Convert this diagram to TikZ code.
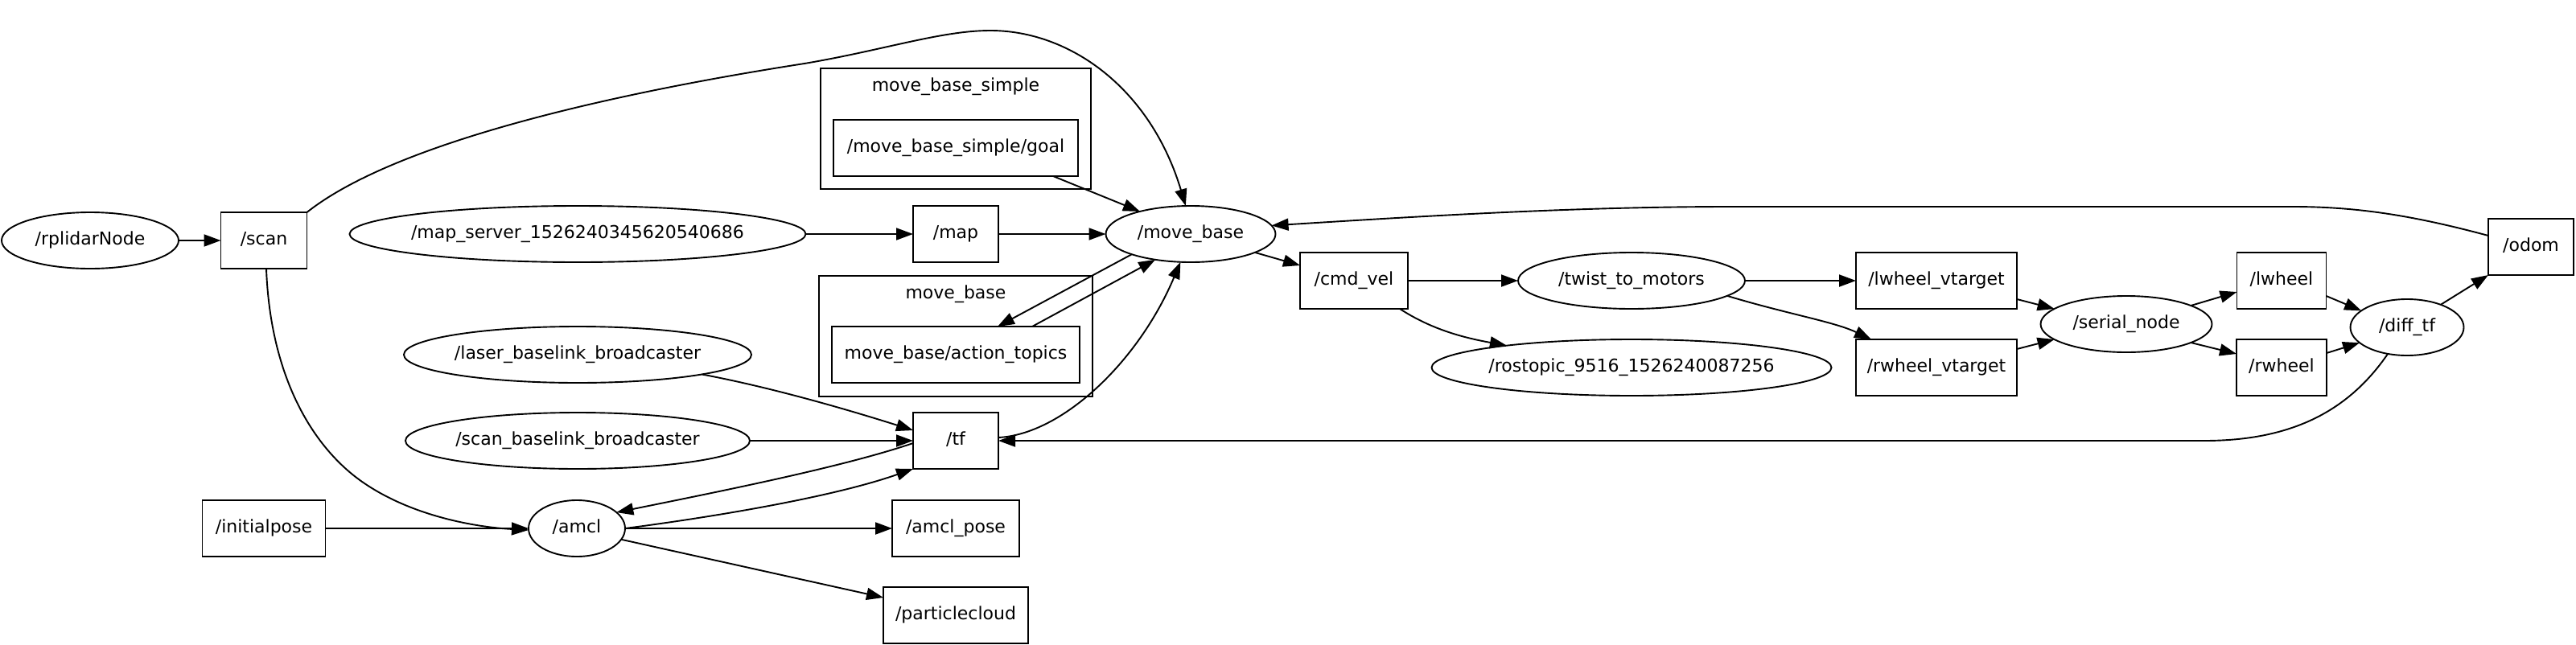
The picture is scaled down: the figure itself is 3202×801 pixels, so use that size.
\documentclass[tikz,border=0pt]{standalone}
\usepackage{fontspec}
\setmainfont{DejaVu Sans}
\usetikzlibrary{shapes.geometric,arrows.meta}
\newcommand{\zb}[1]{\makebox[0pt][c]{#1}}
\begin{document}
\begin{tikzpicture}[x=1pt,y=-1pt,
  every node/.style={font=\fontsize{22}{26}\selectfont, inner sep=0pt, outer sep=0pt, line width=1.9pt, text height=16pt, text depth=5pt},
  topic/.style={draw, rectangle, minimum height=70pt},
  proc/.style={draw, ellipse, minimum height=70pt},
  grp/.style={draw, rectangle, minimum height=150pt},
  edge/.style={line width=1.9pt, -{Triangle[length=21pt,width=15pt]}},
]
\useasboundingbox (0,0) rectangle (3202,801);

% clusters
\node[grp, minimum width=336pt] (cms) at (1188,160) {};
\node (cmst) at (1188,108) {move\_base\_simple};
\node[grp, minimum width=340pt] (cmb) at (1188,418) {};
\node (cmbt) at (1188,366) {move\_base};

% nodes
\node[proc, minimum width=220pt] (rp) at (112,299) {\zb{/rplidarNode}};
\node[topic, minimum width=107pt] (sc) at (328,299) {/scan};
\node[proc, minimum width=567pt] (ms) at (718,291) {\zb{/map\_server\_1526240345620540686}};
\node[proc, minimum width=432pt] (lb) at (718,441) {\zb{/laser\_baselink\_broadcaster}};
\node[proc, minimum width=428pt] (sb) at (718,548) {\zb{/scan\_baselink\_broadcaster}};
\node[topic, minimum width=153pt] (ip) at (328,657) {/initialpose};
\node[proc, minimum width=120pt] (am) at (717,657) {\zb{/amcl}};
\node[topic, minimum width=304pt] (gl) at (1188,184) {/move\_base\_simple/goal};
\node[topic, minimum width=106pt] (mp) at (1188,291) {/map};
\node[proc, minimum width=211pt] (mb) at (1480,291) {\zb{/move\_base}};
\node[topic, minimum width=308pt] (at) at (1188,441) {move\_base/action\_topics};
\node[topic, minimum width=106pt] (tf) at (1188,548) {/tf};
\node[topic, minimum width=158pt] (ap) at (1188,657) {/amcl\_pose};
\node[topic, minimum width=180pt] (pc) at (1188,765) {/particlecloud};
\node[topic, minimum width=134pt] (cv) at (1683,349) {/cmd\_vel};
\node[proc, minimum width=282pt] (tw) at (2028,349) {\zb{/twist\_to\_motors}};
\node[proc, minimum width=497pt] (rt) at (2028,457) {\zb{/rostopic\_9516\_1526240087256}};
\node[topic, minimum width=200pt] (lv) at (2407,349) {/lwheel\_vtarget};
\node[topic, minimum width=200pt] (rv) at (2407,457) {/rwheel\_vtarget};
\node[proc, minimum width=213pt] (sn) at (2643,403) {\zb{/serial\_node}};
\node[topic, minimum width=111pt] (lw) at (2836,349) {/lwheel};
\node[topic, minimum width=112pt] (rw) at (2836,457) {/rwheel};
\node[proc, minimum width=141pt] (dt) at (2992,407) {\zb{/diff\_tf}};
\node[topic, minimum width=106pt] (od) at (3146,307) {/odom};

% edges
\draw[edge] (rp) -- (sc);
\draw[edge] (sc.north east) .. controls (500,170) and (800,110) .. (1000,79)
  .. controls (1100,62) and (1170,38) .. (1231,38)
  .. controls (1330,38) and (1430,110) .. (mb.100);
\draw[edge] ([xshift=3pt]sc.south) .. controls (336,470) and (390,560) .. (456,603)
  .. controls (520,645) and (600,656) .. ([yshift=-2pt]am.west);
\draw[edge] (ip) -- (am);
\draw[edge] (ms) -- (mp);
\draw[edge] (mp) -- (mb);
\draw[edge] ([xshift=121pt]gl.south) -- (mb.156);
\draw[edge] (mb.199) -- ([xshift=52pt]at.north);
\draw[edge] ([xshift=95pt]at.north) -- (mb.216);
\draw[edge] ([yshift=4pt]tf.east) .. controls (1320,540) and (1415,450) .. (mb.250);
\draw[edge] ([yshift=14pt]od.west) .. controls (3000,268) and (2930,257) .. (2850,257)
  -- (2150,257) .. controls (1950,257) and (1750,270) .. (mb.6);
\draw[edge] (dt.234) .. controls (2920,510) and (2850,548) .. (2740,548) -- (tf.east);
\draw[edge] (mb.344) -- ([yshift=19pt]cv.west);
\draw[edge] (cv) -- (tw);
\draw[edge] ([xshift=57pt]cv.south) .. controls (1780,410) and (1820,420) .. (rt.170);
\draw[edge] (tw) -- (lv);
\draw[edge] (tw.351) .. controls (2220,390) and (2280,400) .. ([xshift=-81pt]rv.north);
\draw[edge] ([yshift=-23pt]lv.east) -- (sn.168);
\draw[edge] ([yshift=23pt]rv.east) -- (sn.192);
\draw[edge] (sn.16) -- ([yshift=-14pt]lw.west);
\draw[edge] (sn.344) -- ([yshift=17pt]rw.west);
\draw[edge] ([yshift=-19pt]lw.east) -- (dt.160);
\draw[edge] ([yshift=18pt]rw.east) -- (dt.198);
\draw[edge] (dt.34) -- (od.south west);
\draw[edge] (lb.351) .. controls (950,480) and (1040,505) .. ([yshift=13pt]tf.west);
\draw[edge] (sb) -- (tf);
\draw[edge] ([yshift=-3pt]tf.west) .. controls (1050,580) and (900,610) .. (am.22);
\draw[edge] (am.east) .. controls (870,645) and (1030,620) .. (tf.south west);
\draw[edge] (am) -- (ap);
\draw[edge] (am.346) -- ([yshift=22pt]pc.west);
\end{tikzpicture}
\end{document}
